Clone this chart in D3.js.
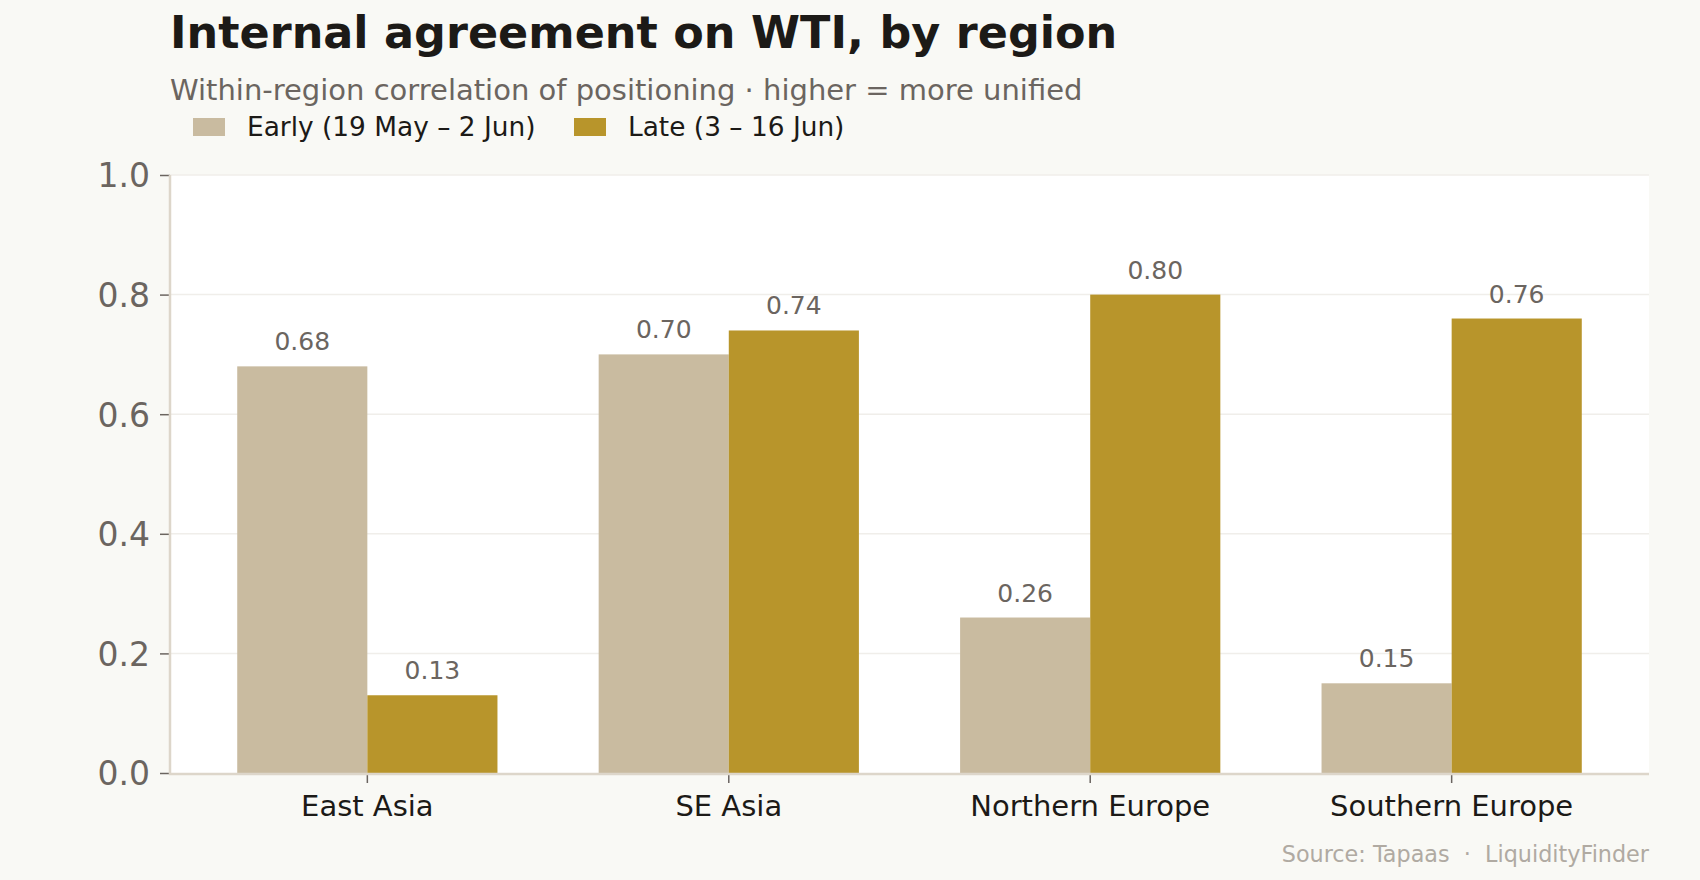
<!DOCTYPE html>
<html>
<head>
<meta charset="utf-8">
<script src="https://cdn.jsdelivr.net/npm/d3@7"></script>
<style>
  body { margin: 0; background: #f9f9f5; }
  text { font-family: "DejaVu Sans", sans-serif; }
</style>
</head>
<body>
<svg id="svg" width="1700" height="880"></svg>
<script>
var regions = ["East Asia", "SE Asia", "Northern Europe", "Southern Europe"];
var seriesNames = ["Early (19 May \u2013 2 Jun)", "Late (3 \u2013 16 Jun)"];
var early = [0.68, 0.70, 0.26, 0.15];
var late  = [0.13, 0.74, 0.80, 0.76];
var yTicks = [0, 0.2, 0.4, 0.6, 0.8, 1.0];

var bg = "#f9f9f5",
    plotBg = "#ffffff",
    grid = "#f0eeea",
    spine = "#ddd6ca",
    cEarly = "#c9bba0",
    cLate  = "#b8952b",
    dark = "#1c1a17",
    mid  = "#6b6560",
    faint = "#b0aaa2";

var svg = d3.select("#svg");
svg.append("rect").attr("width", 1700).attr("height", 880).attr("fill", bg);

var L = 170, R = 1649, T = 175, B = 773;

var x0 = d3.scaleBand().domain(regions).range([L, R]).paddingInner(0.28).paddingOuter(0.186);
var x1 = d3.scaleBand().domain([0, 1]).range([0, x0.bandwidth()]);
var y = d3.scaleLinear().domain([0, 1]).range([B, T]);

svg.append("rect").attr("x", L).attr("y", T).attr("width", R - L).attr("height", B - T).attr("fill", plotBg);

// grid
svg.append("g").selectAll("line").data(yTicks.slice(1)).enter().append("line")
    .attr("x1", L).attr("x2", R).attr("y1", d => y(d)).attr("y2", d => y(d))
    .attr("stroke", grid).attr("stroke-width", 1.5);

// bars
var rows = regions.map((r, i) => ({region: r, vals: [early[i], late[i]]}));
var grp = svg.append("g").selectAll("g").data(rows).enter().append("g")
    .attr("transform", d => "translate(" + x0(d.region) + ",0)");
grp.selectAll("rect").data(d => d.vals.map((v, k) => ({v: v, k: k}))).enter().append("rect")
    .attr("x", d => x1(d.k)).attr("width", x1.bandwidth())
    .attr("y", d => y(d.v)).attr("height", d => y(0) - y(d.v))
    .attr("fill", d => d.k ? cLate : cEarly);
grp.selectAll("text").data(d => d.vals.map((v, k) => ({v: v, k: k}))).enter().append("text")
    .attr("x", d => x1(d.k) + x1.bandwidth() / 2).attr("y", d => y(d.v) - 16)
    .attr("text-anchor", "middle").attr("font-size", 25).attr("fill", mid)
    .text(d => d.v.toFixed(2));

// y axis
var yAxis = svg.append("g").attr("transform", "translate(" + L + ",0)")
    .call(d3.axisLeft(y).tickValues(yTicks).tickFormat(d3.format(".1f")).tickSize(10).tickPadding(10));
yAxis.select(".domain").remove();
yAxis.selectAll(".tick line").attr("stroke", mid).attr("stroke-width", 1.5);
yAxis.selectAll(".tick text").attr("font-size", 33).attr("fill", mid).attr("font-family", "DejaVu Sans").attr("dy", "0.36em");

// x axis
var xAxis = svg.append("g").attr("transform", "translate(0," + B + ")")
    .call(d3.axisBottom(x0).tickSize(10).tickPadding(12));
xAxis.select(".domain").remove();
xAxis.selectAll(".tick line").attr("stroke", mid).attr("stroke-width", 1.5);
xAxis.selectAll(".tick text").attr("font-size", 29).attr("fill", dark).attr("font-family", "DejaVu Sans");

// spines
svg.append("line").attr("x1", L).attr("x2", L).attr("y1", T).attr("y2", B + 1)
    .attr("stroke", spine).attr("stroke-width", 2.5);
svg.append("line").attr("x1", L - 1).attr("x2", R).attr("y1", B + 1).attr("y2", B + 1)
    .attr("stroke", spine).attr("stroke-width", 2.5);

// titles
svg.append("text").attr("x", L).attr("y", 48).attr("font-size", 44.5).attr("font-weight", "bold")
    .attr("fill", dark).text("Internal agreement on WTI, by region");
svg.append("text").attr("x", L).attr("y", 100).attr("font-size", 29).attr("fill", mid)
    .text("Within-region correlation of positioning \u00b7 higher = more unified");

// legend
var leg = svg.append("g").selectAll("g").data(seriesNames).enter().append("g")
    .attr("transform", (d, i) => "translate(" + [193, 574][i] + ",0)");
leg.append("rect").attr("y", 118).attr("width", 32).attr("height", 18)
    .attr("fill", (d, i) => i ? cLate : cEarly);
leg.append("text").attr("x", 54).attr("y", 136).attr("font-size", 26.4).attr("fill", dark).text(d => d);

// source
svg.append("text").attr("x", R).attr("y", 862).attr("text-anchor", "end")
    .attr("font-size", 22.3).attr("fill", faint).style("white-space", "pre")
    .text("Source: Tapaas  \u00b7  LiquidityFinder");
</script>
</body>
</html>
